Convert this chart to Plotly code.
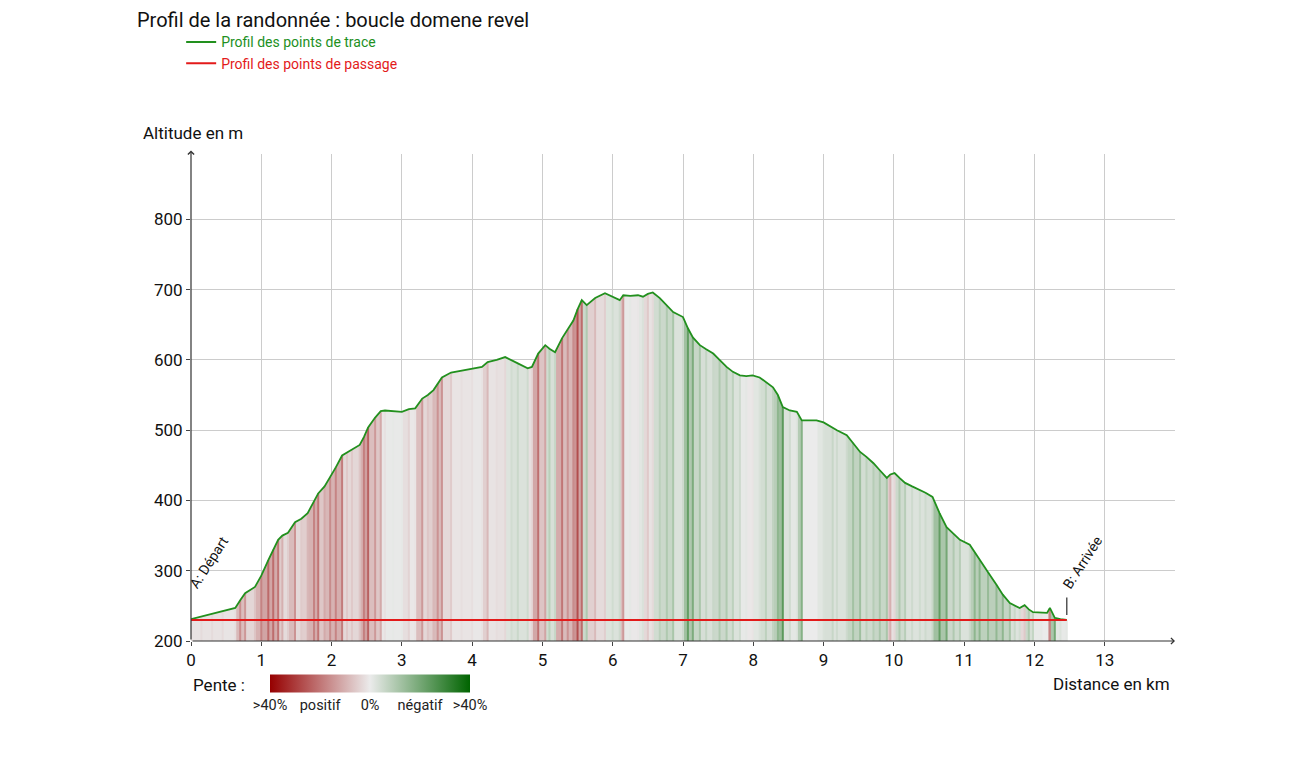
import numpy as np
import plotly.graph_objects as go
from plotly.colors import sample_colorscale, unlabel_rgb

# Distance (km) and altitude (m) read along the track profile
distance_km = [
    0.00, 0.15, 0.30, 0.45, 0.63, 0.70, 0.77, 0.91, 1.00, 1.10, 1.17, 1.24, 1.30, 1.38,
    1.48, 1.57, 1.66, 1.75, 1.81, 1.90, 1.98, 2.06, 2.15, 2.22, 2.29, 2.40, 2.46, 2.52,
    2.62, 2.70, 2.76, 2.88, 3.00, 3.10, 3.19, 3.29, 3.37, 3.45, 3.51, 3.57, 3.70, 3.85,
    4.00, 4.14, 4.22, 4.35, 4.47, 4.56, 4.65, 4.79, 4.85, 4.94, 5.04, 5.10, 5.18, 5.28,
    5.36, 5.44, 5.50, 5.56, 5.63, 5.75, 5.89, 6.00, 6.10, 6.15, 6.25, 6.36, 6.43, 6.50,
    6.57, 6.67, 6.77, 6.86, 7.00, 7.07, 7.14, 7.24, 7.33, 7.43, 7.52, 7.62, 7.71, 7.81,
    7.90, 7.99, 8.09, 8.18, 8.28, 8.35, 8.42, 8.52, 8.62, 8.69, 8.80, 8.90, 9.00, 9.13,
    9.19, 9.33, 9.42, 9.52, 9.61, 9.71, 9.80, 9.90, 9.95, 10.01, 10.08, 10.16, 10.26,
    10.37, 10.45, 10.55, 10.65, 10.75, 10.85, 10.94, 11.08, 11.15, 11.22, 11.34, 11.46,
    11.55, 11.65, 11.72, 11.79, 11.86, 11.92, 11.98, 12.10, 12.18, 12.22, 12.29, 12.37,
    12.46,
]
altitude_m = [
    231, 235, 239, 243, 247, 258, 268, 277, 293, 315, 330, 344, 350, 354,
    369, 374, 382, 398, 410, 420, 433, 447, 464, 468, 472, 479, 490, 504,
    518, 527, 528, 527, 526, 530, 531, 545, 550, 557, 566, 575, 582, 585,
    588, 590, 597, 600, 604, 600, 595, 588, 590, 609, 621, 616, 611, 631,
    643, 656, 672, 685, 678, 688, 695, 690, 685, 692, 691, 692, 690, 694,
    696, 688, 678, 668, 661, 645, 632, 621, 615, 609, 600, 590, 583, 578,
    577, 578, 575, 568, 561, 550, 533, 528, 526, 514, 514, 514, 511, 503,
    500, 493, 482, 469, 462, 453, 443, 432, 437, 439, 432, 425, 420,
    415, 411, 405, 382, 362, 352, 344, 337, 326, 315, 298, 280,
    266, 254, 250, 247, 251, 245, 241, 240, 240, 247, 233, 231,
    230,
]

# Waypoints (A: Départ, B: Arrivée)
waypoint_km = [0.0, 12.46]
waypoint_alt = [230, 230]
waypoint_labels = ["A: Départ", "B: Arrivée"]

x_ticks = list(range(0, 14))
y_ticks = list(range(200, 900, 100))

colorbar_vals = [-40, -20, 0, 20, 40]
colorbar_text = [">40%", "positif", "0%", "négatif", ">40%"]

FONT = "Roboto, 'Noto Sans', sans-serif"
SLOPE_SCALE = [[0, "#960000"], [0.5, "#ebebeb"], [1, "#006400"]]

dist = np.array(distance_km)
alt = np.array(altitude_m, dtype=float)

# slope in % for each point (from previous point); positive = climb
slope = np.zeros_like(alt)
slope[1:] = np.diff(alt) / (np.diff(dist) * 1000.0) * 100.0
slope[0] = slope[1]
# red on the left of the scale for climbing, green on the right for descent
slope_val = np.clip(-slope, -40, 40)
stripe_colors = sample_colorscale(SLOPE_SCALE, list((slope_val + 40) / 80))

fig = go.Figure()

# light grey area under the profile
fig.add_trace(go.Scatter(
    x=distance_km, y=altitude_m, mode="lines", fill="tozeroy",
    fillcolor="#ebebeb", line=dict(width=0), showlegend=False, hoverinfo="skip",
))

# tint of each segment with its slope colour
for i in range(1, len(distance_km)):
    r, g, b = unlabel_rgb(stripe_colors[i])
    fig.add_trace(go.Scatter(
        x=[distance_km[i - 1], distance_km[i - 1], distance_km[i], distance_km[i]],
        y=[200, altitude_m[i - 1], altitude_m[i], 200],
        mode="lines", fill="toself", fillcolor=f"rgba({r:.0f},{g:.0f},{b:.0f},0.55)",
        line=dict(width=0), showlegend=False, hoverinfo="skip",
    ))

# slope stripes, one vertical line per profile point
for d, a, c in zip(distance_km, altitude_m, stripe_colors):
    fig.add_trace(go.Scatter(
        x=[d, d], y=[200, a], mode="lines", line=dict(color=c, width=2),
        showlegend=False, hoverinfo="skip",
    ))

# invisible trace carrying the slope colour bar
fig.add_trace(go.Scatter(
    x=[None], y=[None], mode="markers", showlegend=False, hoverinfo="skip",
    marker=dict(
        color=[0], cmin=-40, cmax=40, colorscale=SLOPE_SCALE, showscale=True,
        colorbar=dict(
            orientation="h", x=0.182, xanchor="center", y=-0.104, yanchor="middle",
            len=220, lenmode="pixels", thickness=18, outlinewidth=0,
            tickvals=colorbar_vals, ticktext=colorbar_text, ticks="",
            tickfont=dict(family=FONT, size=14.5, color="#222"),
        ),
    ),
))

fig.add_trace(go.Scatter(
    x=distance_km, y=altitude_m, mode="lines",
    line=dict(color="#22901e", width=1.8),
    name="<span style='color:#22901e'>Profil des points de trace</span>",
))
fig.add_trace(go.Scatter(
    x=waypoint_km, y=waypoint_alt, mode="lines",
    line=dict(color="#e31a1a", width=2),
    name="<span style='color:#e31a1a'>Profil des points de passage</span>",
))

annotations = [
    # axis arrows
    dict(x=14, y=200, ax=0, ay=200, xref="x", yref="y", axref="x", ayref="y",
         showarrow=True, arrowhead=4, arrowsize=1, arrowwidth=1.2, arrowcolor="#333", text=""),
    dict(x=0, y=898, ax=0, ay=200, xref="x", yref="y", axref="x", ayref="y",
         showarrow=True, arrowhead=4, arrowsize=1, arrowwidth=1.2, arrowcolor="#333", text=""),
    dict(text="Altitude en m", x=-0.0508, y=1.043, xref="paper", yref="paper",
         xanchor="left", yanchor="middle", showarrow=False,
         font=dict(family=FONT, size=17, color="#111")),
    dict(text="Distance en km", x=0.997, y=-0.088, xref="paper", yref="paper",
         xanchor="right", yanchor="middle", showarrow=False,
         font=dict(family=FONT, size=17, color="#111")),
    dict(text="Pente :", x=0.0, y=-0.09, xref="paper", yref="paper",
         xanchor="left", yanchor="middle", showarrow=False,
         font=dict(family=FONT, size=17, color="#111")),
    dict(text=waypoint_labels[0], x=0.26, y=312, xref="x", yref="y", textangle=-57,
         showarrow=False, font=dict(family=FONT, size=14, color="#111")),
    dict(text=waypoint_labels[1], x=12.69, y=312, xref="x", yref="y", textangle=-57,
         showarrow=False, font=dict(family=FONT, size=14, color="#111")),
]

fig.update_layout(
    width=1302, height=757,
    margin=dict(l=191, r=127, t=154, b=116),
    plot_bgcolor="white", paper_bgcolor="white",
    font=dict(family=FONT, size=17, color="#111"),
    title=dict(
        text="Profil de la randonnée : boucle domene revel",
        x=137 / 1302, xref="container", xanchor="left",
        y=1 - 20 / 757, yref="container", yanchor="middle",
        font=dict(family=FONT, size=20, color="#111"),
    ),
    legend=dict(
        x=-0.01, y=1.262, xanchor="left", yanchor="top",
        bgcolor="rgba(0,0,0,0)", font=dict(family=FONT, size=14),
        tracegroupgap=0,
    ),
    annotations=annotations,
    shapes=[dict(type="line", xref="x", yref="y", x0=waypoint_km[1], x1=waypoint_km[1],
                 y0=237, y1=262, line=dict(color="#555", width=1.5))],
    xaxis=dict(
        range=[0, 14], tickvals=x_ticks, showgrid=True, gridcolor="#cccccc",
        zeroline=False, showline=False, ticks="outside", ticklen=4, tickcolor="#444",
        tickfont=dict(size=17),
    ),
    yaxis=dict(
        range=[200, 893], tickvals=y_ticks, showgrid=True, gridcolor="#cccccc",
        zeroline=False, showline=False, ticks="outside", ticklen=4, tickcolor="#444",
        tickfont=dict(size=17),
    ),
)

fig.write_html("out.html", config={"displayModeBar": False},
               post_script="document.body.style.margin='0';")
